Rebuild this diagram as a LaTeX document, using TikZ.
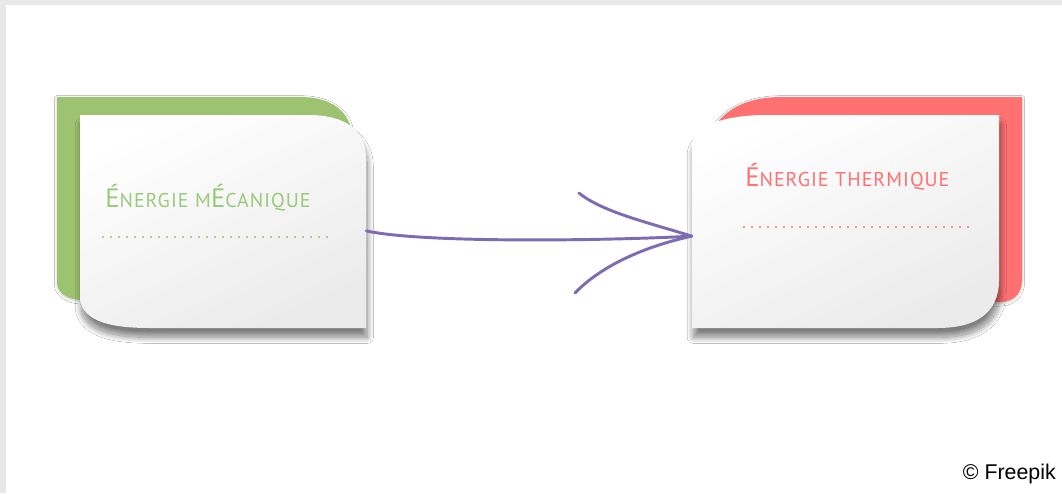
\documentclass[tikz,border=0pt]{standalone}
\usepackage{fontspec}
\setmainfont{PT Sans}
\newfontfamily\creditfont{Liberation Sans}
\usetikzlibrary{shadows.blur,fit}

\definecolor{mecagreen}{HTML}{9DC371}
\definecolor{mecaink}{HTML}{9ACA7A}
\definecolor{thermred}{HTML}{FF7171}
\definecolor{flowpurple}{HTML}{7D6BB4}
\definecolor{framegray}{HTML}{E8E8E8}

\newcommand{\grand}[1]{{\fontsize{20}{20}\selectfont #1}}
\newcommand{\petit}[1]{{\fontsize{15}{15}\selectfont\addfontfeature{LetterSpace=5}#1}}

\tikzset{
	card back/.style={
		fill=#1,
		blur shadow={shadow xshift=0pt, shadow yshift=-1pt,
			shadow blur radius=2pt, shadow opacity=20}
	},
	card face/.style={
		top color=white,
		bottom color=black!8,
		shading angle=25,
		blur shadow={shadow xshift=1pt, shadow yshift=-7pt,
			shadow blur radius=4.5pt, shadow blur steps=20, shadow opacity=50}
	},
	card label/.style={anchor=base west, inner sep=0pt, text=#1},
	dot rule/.style={#1, line width=1.6pt, line cap=round,
		dash pattern=on 0pt off 6pt},
	flow/.style={flowpurple, line width=2.2pt, line cap=round}
}

\begin{document}
\begin{tikzpicture}[x=0.75pt, y=-0.75pt]

\useasboundingbox (0,0) rectangle (1062,493);
\fill[white] (0,0) rectangle (1062,493);
\fill[framegray] (0,0) rectangle (1062,5);
\fill[framegray] (0,0) rectangle (6,493);

% energie mecanique
\path[card back=mecagreen] (57,97) -- (300,97)
	.. controls (328,97) and (344,108) .. (350,125) -- (350,300) -- (80,300)
	.. controls (66,299) and (57,292) .. (57,282) -- cycle;
\path[card face] (80,115) -- (308,115)
	.. controls (345,115) and (366,130) .. (366,158) -- (366,328) -- (150,328)
	.. controls (112,328) and (84,322) .. (80,300) -- cycle;
\node[fit={(80,115) (366,328)}, inner sep=0pt] (meca) {};
\node[card label=mecaink] (mecatext) at (105,207)
	{\grand{É}\petit{NERGIE}\enspace\petit{M}\grand{É}\petit{CANIQUE}};
\draw[dot rule=mecagreen] (103,237) -- (334,237);

% energie thermique
\path[card back=thermred] (717,123)
	.. controls (732,104) and (755,97) .. (782,97) -- (1022,97) -- (1022,280)
	.. controls (1022,294) and (1013,302) .. (1000,302) -- (717,302) -- cycle;
\path[card face] (692,143)
	.. controls (696,124) and (728,115) .. (767,115) -- (999,115) -- (999,280)
	.. controls (999,314) and (975,328) .. (937,328) -- (692,328) -- cycle;
\node[fit={(692,115) (999,328)}, inner sep=0pt] (therm) {};
\node[card label=thermred] (thermtext) at (745,186)
	{\grand{É}\petit{NERGIE}\enspace\petit{THERMIQUE}};
\draw[dot rule=thermred] (744,227) -- (975,227);

% fleche
\coordinate (tail) at ([yshift=-7pt]meca.east);
\coordinate (tip) at ([yshift=-11pt]therm.west);
\draw[flow] (tail) .. controls (420,243) and (600,241) .. (tip);
\draw[flow] (579,193) .. controls (602,212) and (650,223) .. (tip);
\draw[flow] (575,293) .. controls (600,267) and (642,247) .. (tip);

\node[anchor=base east, inner sep=0pt, font=\creditfont\fontsize{16}{16}\selectfont]
	(credit) at (1056,479) {© Freepik};

\end{tikzpicture}
\end{document}
